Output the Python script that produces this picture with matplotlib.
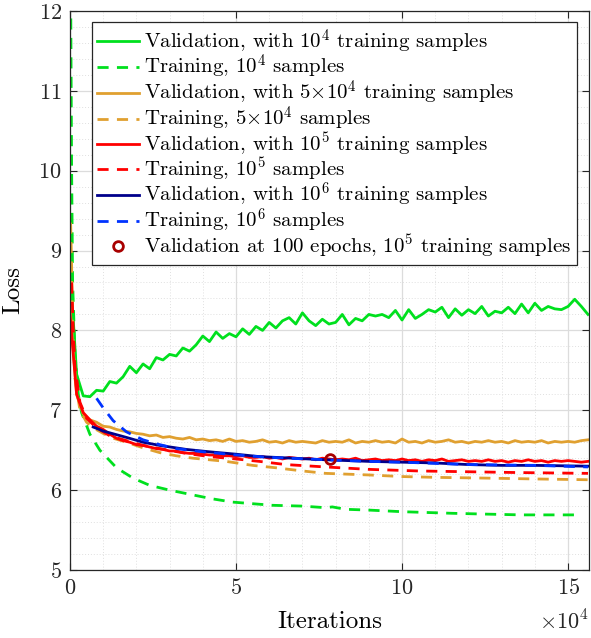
import numpy as np
import matplotlib
matplotlib.use("Agg")
import matplotlib.pyplot as plt
from matplotlib.ticker import MultipleLocator

plt.rcParams['font.family'] = 'serif'
plt.rcParams['font.serif'] = ['cmr10', 'DejaVu Serif']
plt.rcParams['mathtext.fontset'] = 'cm'
plt.rcParams['axes.unicode_minus'] = False
plt.rcParams['axes.formatter.use_mathtext'] = True

# ---------------- data (iterations in units of 1e4) ----------------
iters_noisy = [0.0, 0.2, 0.4, 0.6, 0.8, 1.0, 1.2, 1.4, 1.6, 1.8,
               2.0, 2.2, 2.4, 2.6, 2.8, 3.0, 3.2, 3.4, 3.6, 3.8,
               4.0, 4.2, 4.4, 4.6, 4.8, 5.0, 5.2, 5.4, 5.6, 5.8,
               6.0, 6.2, 6.4, 6.6, 6.8, 7.0, 7.2, 7.4, 7.6, 7.8,
               8.0, 8.2, 8.4, 8.6, 8.8, 9.0, 9.2, 9.4, 9.6, 9.8,
               10.0, 10.2, 10.4, 10.6, 10.8, 11.0, 11.2, 11.4, 11.6, 11.8,
               12.0, 12.2, 12.4, 12.6, 12.8, 13.0, 13.2, 13.4, 13.6, 13.8,
               14.0, 14.2, 14.4, 14.6, 14.8, 15.0, 15.2, 15.4, 15.6]

val_1e4 = [8.80, 7.45, 7.18, 7.17, 7.25, 7.24, 7.36, 7.34, 7.42, 7.55,
           7.47, 7.58, 7.52, 7.66, 7.63, 7.70, 7.68, 7.78, 7.74, 7.82,
           7.93, 7.86, 7.98, 7.90, 7.96, 7.92, 8.02, 7.95, 8.05, 8.00,
           8.10, 8.03, 8.12, 8.16, 8.08, 8.22, 8.12, 8.06, 8.14, 8.08,
           8.10, 8.20, 8.07, 8.15, 8.12, 8.20, 8.18, 8.20, 8.16, 8.25,
           8.13, 8.26, 8.15, 8.20, 8.26, 8.23, 8.29, 8.16, 8.27, 8.19,
           8.26, 8.21, 8.30, 8.18, 8.24, 8.22, 8.29, 8.21, 8.33, 8.22,
           8.34, 8.25, 8.30, 8.27, 8.26, 8.30, 8.39, 8.30, 8.20]

val_5e4 = [8.30, 7.20, 6.95, 6.88, 6.85, 6.80, 6.79, 6.76, 6.74, 6.73,
           6.71, 6.70, 6.68, 6.69, 6.66, 6.67, 6.65, 6.64, 6.66, 6.63,
           6.64, 6.62, 6.63, 6.61, 6.64, 6.61, 6.62, 6.60, 6.61, 6.63,
           6.60, 6.61, 6.59, 6.62, 6.60, 6.61, 6.60, 6.59, 6.62, 6.60,
           6.61, 6.60, 6.63, 6.59, 6.61, 6.60, 6.62, 6.60, 6.61, 6.59,
           6.64, 6.60, 6.61, 6.59, 6.62, 6.60, 6.61, 6.63, 6.60, 6.61,
           6.59, 6.61, 6.60, 6.62, 6.60, 6.61, 6.59, 6.62, 6.60, 6.61,
           6.60, 6.62, 6.59, 6.61, 6.60, 6.61, 6.60, 6.62, 6.63]

val_1e5 = [8.20, 7.20, 6.97, 6.88, 6.80, 6.76, 6.70, 6.65, 6.62, 6.60,
           6.57, 6.56, 6.54, 6.52, 6.51, 6.49, 6.49, 6.47, 6.46, 6.46,
           6.45, 6.44, 6.44, 6.43, 6.43, 6.42, 6.43, 6.41, 6.41, 6.42,
           6.40, 6.41, 6.39, 6.41, 6.40, 6.39, 6.40, 6.38, 6.40, 6.39,
           6.38, 6.39, 6.38, 6.40, 6.37, 6.38, 6.39, 6.37, 6.38, 6.37,
           6.39, 6.37, 6.38, 6.36, 6.38, 6.37, 6.39, 6.36, 6.37, 6.38,
           6.36, 6.37, 6.36, 6.38, 6.36, 6.37, 6.35, 6.37, 6.36, 6.38,
           6.36, 6.37, 6.35, 6.37, 6.36, 6.37, 6.36, 6.35, 6.36]

train_1e4_x = [0.02, 0.05, 0.08, 0.15, 0.25, 0.35, 0.6, 0.9, 1.4, 1.9,
               2.4, 3.0, 3.7, 4.3, 4.9, 5.5, 6.1, 7.0, 7.7, 7.9,
               8.3, 9.0, 10.0, 11.5, 12.5, 13.6, 14.5, 15.2]
train_1e4 = [12.3, 10.0, 8.6, 7.7, 7.2, 6.97, 6.70, 6.50, 6.28, 6.15,
             6.06, 6.00, 5.94, 5.89, 5.85, 5.83, 5.81, 5.80, 5.78, 5.79,
             5.76, 5.75, 5.73, 5.71, 5.70, 5.69, 5.69, 5.69]

train_5e4_x = [0.02, 0.05, 0.08, 0.15, 0.3, 0.5, 0.7, 1.0, 1.3, 1.7,
               2.2, 2.7, 3.2, 3.7, 4.7, 5.5, 6.2, 7.0, 7.7, 9.0,
               10.0, 11.0, 12.6, 14.0, 15.6]
train_5e4 = [9.35, 8.8, 8.0, 7.4, 7.0, 6.85, 6.78, 6.71, 6.65, 6.60,
             6.53, 6.47, 6.43, 6.40, 6.36, 6.31, 6.28, 6.24, 6.21, 6.19,
             6.17, 6.16, 6.15, 6.14, 6.13]

train_1e5_x = [0.05, 0.1, 0.15, 0.3, 0.5, 0.8, 1.2, 1.7, 2.2, 2.7,
               3.5, 4.2, 5.0, 5.7, 6.5, 7.7, 9.0, 10.5, 12.0, 13.5, 15.6]
train_1e5 = [8.6, 8.0, 7.55, 7.1, 6.9, 6.78, 6.68, 6.62, 6.56, 6.52,
             6.46, 6.42, 6.39, 6.36, 6.32, 6.29, 6.26, 6.24, 6.23, 6.22, 6.21]

val_1e6_x = [0.7, 1.0, 1.7, 2.2, 2.7, 3.5, 4.2, 5.0, 5.7, 6.7,
             7.7, 9.0, 10.0, 11.0, 12.0, 13.0, 14.0, 15.6]
val_1e6 = [6.79, 6.74, 6.66, 6.60, 6.56, 6.51, 6.48, 6.45, 6.42, 6.40,
           6.38, 6.36, 6.35, 6.34, 6.32, 6.31, 6.31, 6.30]

train_1e6_x = [0.8, 1.0, 1.3, 1.7, 2.2, 2.7, 3.2, 4.0, 5.0, 6.0,
               7.7, 9.0, 10.0, 12.0, 14.0, 15.6]
train_1e6 = [7.15, 7.03, 6.87, 6.73, 6.63, 6.57, 6.52, 6.48, 6.44, 6.41,
             6.38, 6.36, 6.35, 6.32, 6.31, 6.29]

marker_x = [7.83]
marker_y = [6.39]

labels = [r'Validation, with $10^4$ training samples',
          r'Training, $10^4$ samples',
          r'Validation, with $5{\times}10^4$ training samples',
          r'Training, $5{\times}10^4$ samples',
          r'Validation, with $10^5$ training samples',
          r'Training, $10^5$ samples',
          r'Validation, with $10^6$ training samples',
          r'Training, $10^6$ samples',
          r'Validation at 100 epochs, $10^5$ training samples']

c_green = '#00e01e'
c_gold = '#e0a030'
c_red = '#ff0000'
c_navy = '#00008b'
c_blue = '#0033ff'
c_mark = '#a80000'

fig = plt.figure(figsize=(5.91, 6.38), dpi=100)
ax = fig.add_axes([0.1184, 0.1066, 0.8782, 0.8762])

lw = 2.0
dsh = (4, 3)
ax.plot(iters_noisy, val_1e4, color=c_green, lw=lw, label=labels[0])
ax.plot(train_1e4_x, train_1e4, color=c_green, lw=lw, ls='--', dashes=dsh, label=labels[1])
ax.plot(iters_noisy, val_5e4, color=c_gold, lw=lw, label=labels[2])
ax.plot(train_5e4_x, train_5e4, color=c_gold, lw=lw, ls='--', dashes=dsh, label=labels[3])
ax.plot(iters_noisy, val_1e5, color=c_red, lw=lw, label=labels[4])
ax.plot(train_1e5_x, train_1e5, color=c_red, lw=lw, ls='--', dashes=dsh, label=labels[5])
ax.plot(val_1e6_x, val_1e6, color=c_navy, lw=lw, label=labels[6])
ax.plot(train_1e6_x, train_1e6, color=c_blue, lw=lw, ls='--', dashes=dsh, label=labels[7])
ax.plot(marker_x, marker_y, ls='none', marker='o', ms=7, mfc='none', mec=c_mark, mew=2.0, label=labels[8])

ax.set_xlim(0, 15.63)
ax.set_ylim(5, 12)
ax.xaxis.set_major_locator(MultipleLocator(5))
ax.xaxis.set_minor_locator(MultipleLocator(1))
ax.yaxis.set_major_locator(MultipleLocator(1))
ax.yaxis.set_minor_locator(MultipleLocator(0.2))

ax.grid(True, which='major', color='#dcdcdc', lw=0.9, ls='-')
ax.grid(True, which='minor', color='#e0e0e0', lw=0.7, ls=(0, (1, 2)))
ax.set_axisbelow(True)

ax.tick_params(which='major', direction='in', length=5, width=0.8, top=True, right=True,
               labelsize=16, colors='#262626', pad=6)
ax.tick_params(which='minor', length=0, top=True, right=True)
for sp in ax.spines.values():
    sp.set_color('#262626')
    sp.set_linewidth(0.9)

ax.set_xlabel('Iterations', fontsize=18, labelpad=9)
ax.set_ylabel('Loss', fontsize=18, labelpad=10)
ax.text(1.0, -0.07, r'$\times 10^4$', transform=ax.transAxes, ha='right', va='top', fontsize=16, color='#262626')

leg = ax.legend(loc='upper right', bbox_to_anchor=(0.976, 0.98), fontsize=15, frameon=True, fancybox=False,
                framealpha=1, edgecolor='#262626', handlelength=2.0, handletextpad=0.25,
                labelspacing=-0.11, borderpad=0.25, borderaxespad=0)
leg.get_frame().set_linewidth(0.9)

fig.savefig('out.png', dpi=100)
